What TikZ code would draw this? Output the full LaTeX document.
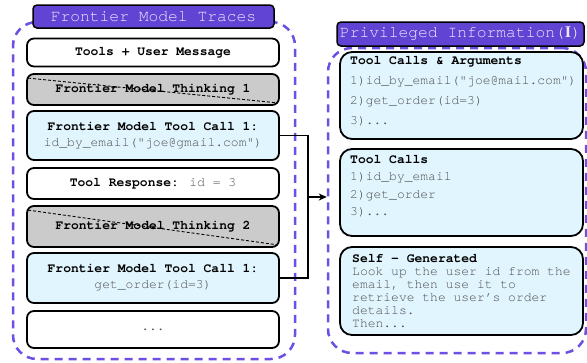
\documentclass[tikz,border=0pt]{standalone}
\usepackage{fontspec}
\setmainfont{TeX Gyre Cursor}[Ligatures=TeXOff]
\newfontfamily\serifI{Liberation Serif}
\usetikzlibrary{arrows.meta}
\definecolor{purpfill}{HTML}{6244D4}
\definecolor{purpdash}{HTML}{6D4FE3}
\definecolor{titletxt}{HTML}{ECE8FF}
\definecolor{lblue}{HTML}{E1F5FE}
\definecolor{lgray}{HTML}{CBCBCB}
\definecolor{codegray}{HTML}{4E4E4E}
\newcommand\fsz{\fontsize{13}{16}\selectfont}
\newcommand\code[1]{\textcolor{codegray}{#1}}
\begin{document}
\begin{tikzpicture}[x=1pt,y=-1pt,
  container/.style={draw=purpdash, line width=2.5pt, dash pattern=on 8pt off 6pt, rounded corners=24pt, inner sep=0pt},
  titlebox/.style={draw=black, line width=1.5pt, fill=purpfill, rounded corners=4pt, inner sep=0pt, text=titletxt, font=\fontsize{16.3}{18}\selectfont},
  box/.style={draw=black, line width=1.8pt, rounded corners=7pt, minimum width=252pt, inner sep=0pt, align=center, font=\fsz},
  rbox/.style={draw=black, line width=1.8pt, rounded corners=12pt, fill=lblue, minimum width=243pt, inner sep=0pt},
  rtext/.style={anchor=north west, inner sep=0pt, align=left},
  thinkline/.style={black, line width=0.9pt, dash pattern=on 3pt off 2pt},
  conn/.style={black, line width=1.3pt},
]
\useasboundingbox (0,0) rectangle (587,362);

% containers
\node[container, minimum width=282pt, minimum height=337pt] (lc) at (154,190.5) {};
\node[container, minimum width=258pt, minimum height=305pt] (rc) at (457,200.5) {};

% titles
\node[titlebox, minimum width=241pt, minimum height=23pt] (lt) at (153.5,16.5) {Frontier Model Traces};
\node[titlebox, minimum width=247pt, minimum height=24pt] (rt) at (460.5,34) {Privileged Information({\serifI\bfseries I})};

% left boxes
\node[box, fill=white, minimum height=28pt] (tum) at (153,52.5) {\bfseries Tools + User Message};
\node[box, fill=lgray, minimum height=31pt] (th1) at (153,89.5) {\bfseries Frontier Model Thinking 1};
\draw[thinkline] ([shift={(2,5)}]th1.north west) -- ([shift={(-2,-3)}]th1.south east);
\node[box, fill=lblue, minimum height=49pt] (tc1) at (153,135.5) {\bfseries Frontier Model Tool Call 1:\\\code{id\_by\_email("joe@gmail.com")}};
\node[box, fill=white, minimum height=31pt] (tr) at (153,183.5) {\textbf{Tool Response:} \code{id = 3}};
\node[box, fill=lgray, minimum height=41pt] (th2) at (153,226.5) {\bfseries Frontier Model Thinking 2};
\draw[thinkline] ([shift={(2,5)}]th2.north west) -- ([shift={(-2,-3)}]th2.south east);
\node[box, fill=lblue, minimum height=50pt] (tc2) at (153,278) {\bfseries Frontier Model Tool Call 1:\\\code{get\_order(id=3)}};
\node[box, fill=white, minimum height=37pt] (dots) at (153,329.5) {\code{...}};

% right boxes
\node[rbox, minimum height=87pt] (tca) at (461.5,95.5) {};
\node[rtext, font=\fontsize{13}{20}\selectfont] (tcat) at (350,56) {\textbf{Tool Calls \& Arguments}\\\code{1)id\_by\_email("joe@mail.com")}\\\code{2)get\_order(id=3)}\\\code{3)...}};
\node[rbox, minimum height=87pt] (tcl) at (461.5,192.5) {};
\node[rtext, font=\fontsize{13}{17.5}\selectfont] (tclt) at (350,155) {\textbf{Tool Calls}\\\code{1)id\_by\_email}\\\code{2)get\_order}\\\code{3)...}};
\node[rbox, minimum height=88pt] (sg) at (461.5,291) {};
\node[rtext, font=\fontsize{13}{13}\selectfont] (sgt) at (352,254) {\textbf{Self - Generated}\\\code{Look up the user id from the}\\\code{email, then use it to}\\\code{retrieve the user’s order}\\\code{details.}\\\code{Then...}};

% connectors
\coordinate (j) at (308,197);
\draw[conn] (tc1.east) -- (tc1.east -| j) |- (tc2.east);
\draw[conn, -{Stealth[length=8pt,width=7pt]}] (j) -- (j -| rc.west);
\end{tikzpicture}
\end{document}
